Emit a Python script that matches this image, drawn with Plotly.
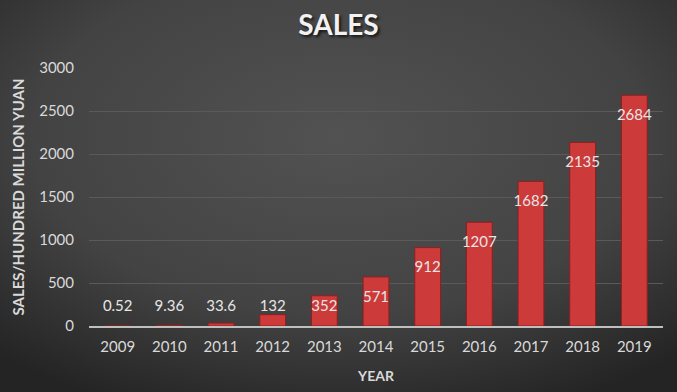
import base64
import plotly.graph_objects as go

years = ["2009", "2010", "2011", "2012", "2013", "2014", "2015", "2016", "2017", "2018", "2019"]
sales = [0.52, 9.36, 33.6, 132, 352, 571, 912, 1207, 1682, 2135, 2684]
label_text = ["0.52", "9.36", "33.6", "132", "352", "571", "912", "1207", "1682", "2135", "2684"]
y_ticks = [0, 500, 1000, 1500, 2000, 2500, 3000]

# label placement (inside end, clamped above axis like the original)
label_offset = 244
label_floor = 221
label_y = [max(v - label_offset, label_floor) for v in sales]

W, H = 677, 392
ML, MR, MT, MB = 89, 14, 68, 66
PW, PH = W - ML - MR, H - MT - MB

svg = """<svg xmlns='http://www.w3.org/2000/svg' width='677' height='392' viewBox='0 0 677 392' preserveAspectRatio='none'>
<defs><radialGradient id='g' cx='50%' cy='35%' r='75%'>
<stop offset='0%' stop-color='#525252'/><stop offset='60%' stop-color='#434343'/><stop offset='100%' stop-color='#242424'/>
</radialGradient></defs><rect width='677' height='392' fill='url(#g)'/></svg>"""
bg = "data:image/svg+xml;base64," + base64.b64encode(svg.encode()).decode()

fig = go.Figure()
fig.add_trace(go.Bar(
    x=years, y=sales,
    marker=dict(color="#cd3a3a", line=dict(color="#8e1f1f", width=1)),
    hoverinfo="skip",
))
fig.add_trace(go.Scatter(
    x=years, y=label_y, text=label_text, mode="text",
    textfont=dict(family="Lato, Open Sans, sans-serif", size=15, color="#e6e6e6"),
    hoverinfo="skip",
))

fig.update_layout(
    width=W, height=H,
    margin=dict(l=ML, r=MR, t=MT, b=MB, autoexpand=False),
    paper_bgcolor="#3a3a3a",
    plot_bgcolor="rgba(0,0,0,0)",
    showlegend=False,
    bargap=0.5,
    title=dict(
        text="<b>SALES</b>", x=0.5, xanchor="center", y=0.935, yanchor="middle",
        font=dict(family="Lato, Open Sans, sans-serif", size=28, color="#f2f2f2",
                  shadow="2px 2px 3px rgba(0,0,0,0.7)"),
    ),
    images=[dict(source=bg, xref="paper", yref="paper",
                 x=-ML / PW, y=1 + MT / PH, sizex=W / PW, sizey=H / PH,
                 xanchor="left", yanchor="top", sizing="stretch", layer="below")],
    xaxis=dict(
        automargin=False,
        showgrid=False, showline=True, linecolor="#bfbfbf", linewidth=2,
        tickfont=dict(family="Lato, Open Sans, sans-serif", size=15, color="#d9d9d9"),
        ticks="", ticklabelstandoff=6,
        title=dict(text="<b>YEAR</b>", standoff=17,
                   font=dict(family="Lato, Open Sans, sans-serif", size=14, color="#d9d9d9")),
    ),
    yaxis=dict(
        automargin=False,
        range=[0, 3000], tickvals=y_ticks,
        showgrid=True, gridcolor="#5a5a5a", gridwidth=1,
        zeroline=False, showline=False, ticks="",
        tickfont=dict(family="Lato, Open Sans, sans-serif", size=15, color="#d9d9d9"),
        ticklabelstandoff=14,
        title=dict(text="<b>SALES/HUNDRED MILLION YUAN</b>", standoff=10,
                   font=dict(family="Lato, Open Sans, sans-serif", size=15, color="#d9d9d9")),
    ),
)

fig.write_html("out.html", config={"displayModeBar": False},
               post_script="document.body.style.margin='0';document.body.style.overflow='hidden';")
